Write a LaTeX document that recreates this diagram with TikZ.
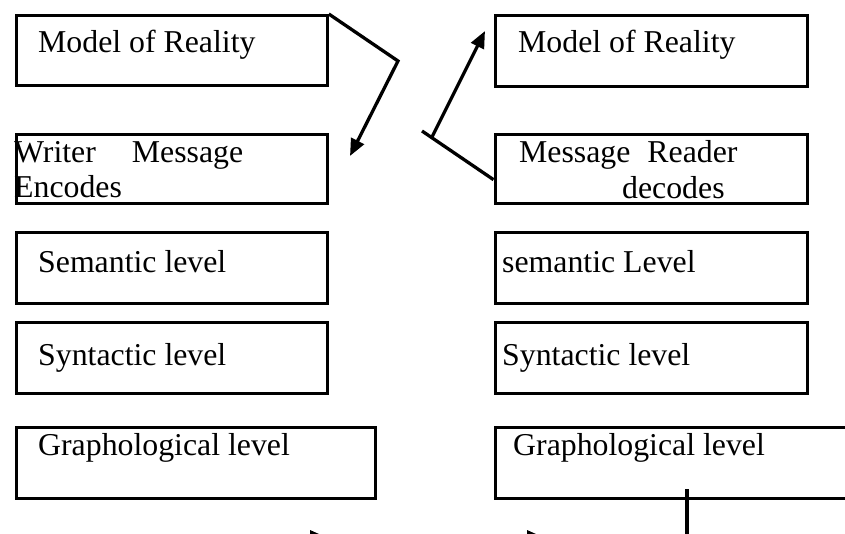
\documentclass[tikz,border=0pt]{standalone}
\usepackage{fontspec}
\setmainfont{Liberation Serif}
\usetikzlibrary{arrows.meta}
\begin{document}
\begin{tikzpicture}[x=1pt,y=-1pt,
  box/.style={draw=black,line width=3.3pt,rectangle,inner sep=0pt,anchor=north west},
  txt/.style={anchor=base west,inner sep=0pt,font=\fontsize{31.8pt}{36pt}\selectfont},
  conn/.style={line width=3.3pt,line cap=butt,line join=miter},
  arr/.style={conn,-{Triangle[length=17pt,width=14pt]}}]
\useasboundingbox (0,0) rectangle (845,534);
\clip (0,0) rectangle (845,534);
% left column
\node[box,minimum width=311pt,minimum height=70pt] (L1) at (14.5,14) {};
\node[box,minimum width=311pt,minimum height=69pt] (L2) at (14.5,133) {};
\node[box,minimum width=311pt,minimum height=71pt] (L3) at (14.5,231) {};
\node[box,minimum width=311pt,minimum height=71pt] (L4) at (14.5,321) {};
\node[box,minimum width=359pt,minimum height=71pt] (L5) at (14.5,426) {};
% right column
\node[box,minimum width=312pt,minimum height=71pt] (R1) at (493.5,14) {};
\node[box,minimum width=312pt,minimum height=69pt] (R2) at (493.5,133) {};
\node[box,minimum width=312pt,minimum height=71pt] (R3) at (493.5,231) {};
\node[box,minimum width=312pt,minimum height=71pt] (R4) at (493.5,321) {};
\node[box,minimum width=400pt,minimum height=71pt] (R5) at (493.5,426) {};
% texts
\node[txt] (tL1) at (38,53) {Model of Reality};
\node[txt] (tL2a) at (14,163) {Writer\hspace{36pt}Message};
\node[txt] (tL2b) at (14,198) {Encodes};
\node[txt] (tL3) at (38,273) {Semantic level};
\node[txt] (tL4) at (38,365) {Syntactic level};
\node[txt] (tL5) at (38,455) {Graphological level};
\node[txt] (tR1) at (518,53) {Model of Reality};
\node[txt] (tR2a) at (519,163) {Message\hspace{17pt}Reader};
\node[txt] (tR2b) at (622,199) {decodes};
\node[txt] (tR3) at (502,273) {semantic Level};
\node[txt] (tR4) at (502,365) {Syntactic level};
\node[txt] (tR5) at (513,455) {Graphological level};
% connectors
\coordinate (bendL) at (398,61);
\coordinate (tipL) at (350,156);
\draw[arr] (L1.north east) -- (bendL) -- (tipL);
\coordinate (barR) at (422,131);
\coordinate (baseR) at (432,137);
\coordinate (tipR) at (485,31);
\draw[conn] ([yshift=-10.5pt]R2.west) -- (barR);
\draw[arr] (baseR) -- (tipR);
\coordinate (vtop) at (687,489);
\coordinate (vbot) at (687,540);
\draw[conn] (vtop) -- (vbot);
% bottom arrowheads (cut by the edge)
\coordinate (a1s) at (270,537.5);
\coordinate (a1e) at (327,537.5);
\coordinate (a2s) at (487,537.5);
\coordinate (a2e) at (544,537.5);
\draw[arr] (a1s) -- (a1e);
\draw[arr] (a2s) -- (a2e);
\end{tikzpicture}
\end{document}
